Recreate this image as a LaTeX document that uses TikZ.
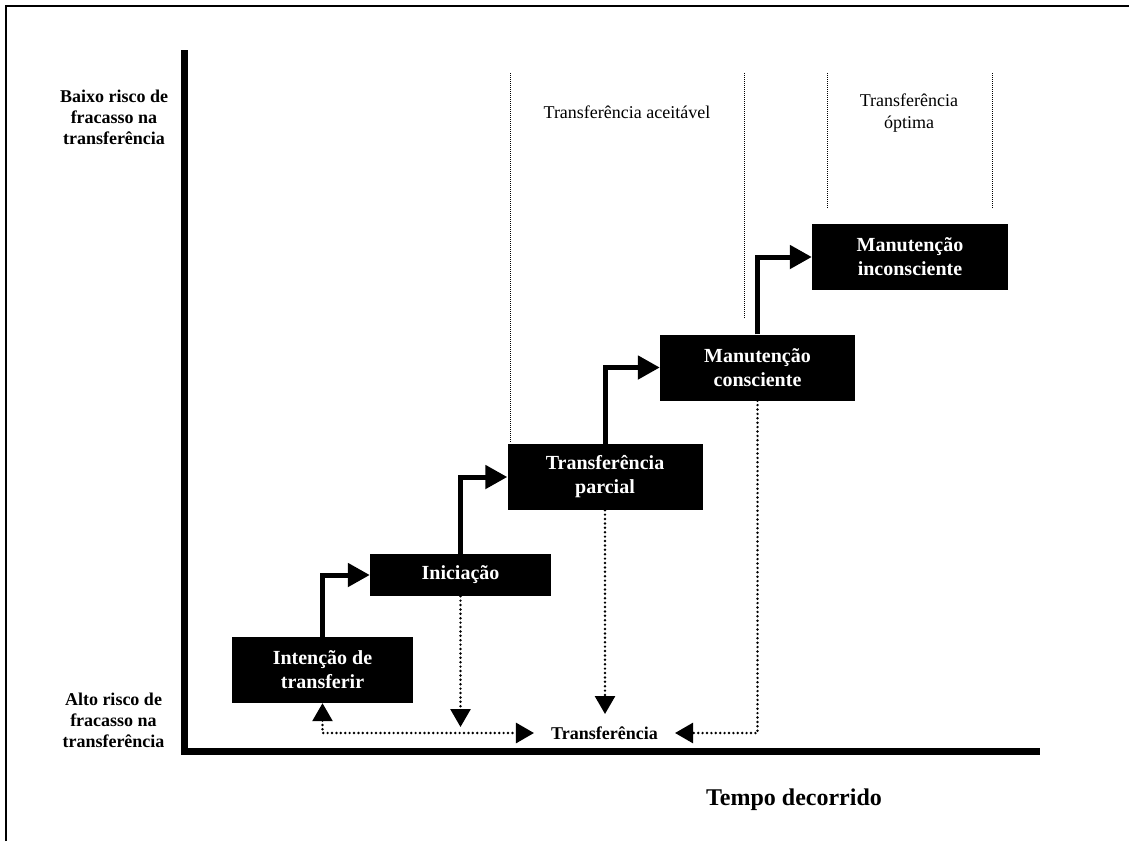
\documentclass[tikz,border=0pt]{standalone}
\usepackage{fontspec}
\setmainfont{Liberation Serif}
\usetikzlibrary{arrows.meta,positioning}

\begin{document}
\begin{tikzpicture}[
  x=1pt,y=-1pt,
  stage/.style={fill=black,text=white,inner sep=0pt,align=center,minimum height=66pt,font=\fontsize{20}{24}\selectfont\bfseries},
  riskstyle/.style={align=center,inner sep=0pt,font=\fontsize{18}{21}\selectfont\bfseries},
  zone/.style={align=center,inner sep=0pt,font=\fontsize{18}{22}\selectfont},
  stepline/.style={-{Triangle[length=22pt,width=23pt]},line width=5pt},
  dropline/.style={-{Triangle[length=18pt,width=20pt]},line width=2.7pt,line cap=round,dash pattern=on 0pt off 4.4pt},
  border/.style={line width=1pt,dash pattern=on 1pt off 1pt}
]
\useasboundingbox (0,0) rectangle (1129,841);
\draw[line width=2.5pt] (6,841) -- (6,6) -- (1129,6);
\draw[line width=6.5pt,line join=miter] (184.5,50) -- (184.5,751.5) -- (1040,751.5);

\draw[border] (510,73) -- (510,443);
\draw[border] (744,73) -- (744,318);
\draw[border] (827,73) -- (827,208);
\draw[border] (992,73) -- (992,208);

\node[stage,minimum width=181pt] (intention) at (322.5,670) {Intenção de\\transferir};
\node[stage,minimum width=181pt,minimum height=42pt] (initiation) at (460.5,575) {Iniciação};
\node[stage,minimum width=195pt] (partial) at (605,477) {Transferência\\parcial};
\node[stage,minimum width=195pt] (conscious) at (757.5,367.5) {Manutenção\\consciente};
\node[stage,minimum width=196pt] (unconscious) at (910,257) {Manutenção\\inconsciente};

\node[riskstyle] (lowrisk) at (114,117) {Baixo risco de\\fracasso na\\transferência};
\node[riskstyle] (highrisk) at (113.5,720.5) {Alto risco de\\fracasso na\\transferência};
\node[anchor=base,inner sep=0pt,font=\fontsize{24}{29}\selectfont\bfseries] (elapsed) at (794,805) {Tempo decorrido};
\node[zone,anchor=base] (acceptable) at (627,118) {Transferência aceitável};
\node[zone] (optimal) at (909,113) {Transferência\\óptima};
\node[inner xsep=17pt,inner ysep=0pt,font=\fontsize{18}{21}\selectfont\bfseries] (transfer) at (604.5,733) {Transferência};

\draw[stepline] (intention.north) |- (initiation.west);
\draw[stepline] (initiation.north) |- (partial.west);
\draw[stepline] (partial.north) |- (conscious.west);
\draw[stepline] (conscious.north) |- (unconscious.west);

\coordinate (initend) at (460.5,727);
\coordinate (partend) at (605,714);
\draw[dropline] (initiation.south) -- (initend);
\draw[dropline] (partial.south) -- (partend);
\draw[dropline] (conscious.south) |- (transfer.east);
\draw[dropline,{Triangle[length=18pt,width=20pt]}-{Triangle[length=18pt,width=20pt]}] (intention.south) |- (transfer.west);
\end{tikzpicture}
\end{document}
